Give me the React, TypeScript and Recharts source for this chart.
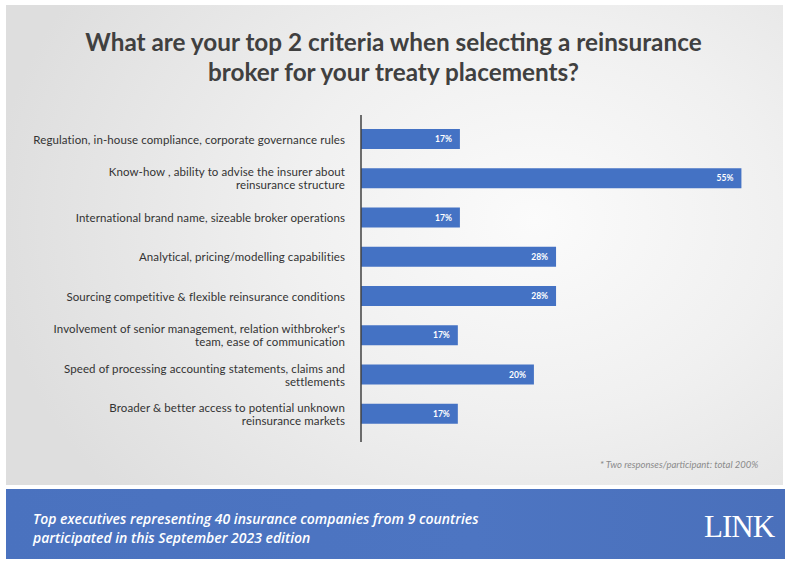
import { BarChart, Bar, XAxis, YAxis, LabelList } from "recharts";

const categories = [
  "Regulation, in-house compliance, corporate governance rules",
  "Know-how , ability to advise the insurer about\nreinsurance structure",
  "International brand name, sizeable broker operations",
  "Analytical, pricing/modelling capabilities",
  "Sourcing competitive & flexible reinsurance conditions",
  "Involvement of senior management, relation withbroker's\nteam, ease of communication",
  "Speed of processing accounting statements, claims and\nsettlements",
  "Broader & better access to potential unknown\nreinsurance markets",
];

// bar lengths as drawn in the picture (the printed labels don't scale linearly)
const values = [14.3, 55, 14.3, 28.2, 28.2, 14, 25, 14];
const labels = ["17%", "55%", "17%", "28%", "28%", "17%", "20%", "17%"];

const data = categories.map((name, i) => ({ name, value: values[i], label: labels[i] }));

const BLUE = "#4472c4";
const LINE_GAP = 13;

const CategoryTick = ({ x, y, payload }: { x?: number; y?: number; payload?: { value: string } }) => {
  const lines = (payload?.value ?? "").split("\n");
  const start = -((lines.length - 1) * LINE_GAP) / 2;
  return (
    <text
      x={x}
      y={y}
      textAnchor="end"
      fontSize={11.5}
      letterSpacing={0.1}
      fontFamily="Lato, sans-serif"
      fill="#333333"
      dominantBaseline="central"
    >
      {lines.map((l, i) => (
        <tspan key={i} x={x} dy={i === 0 ? start : LINE_GAP}>
          {l}
        </tspan>
      ))}
    </text>
  );
};

export default function App() {
  return (
    <div
      style={{
        position: "absolute",
        left: 0,
        top: 0,
        width: 787,
        height: 563,
        background: "#ffffff",
        overflow: "hidden",
        fontFamily: "Lato, sans-serif",
      }}
    >
      <div
        style={{
          position: "absolute",
          left: 6,
          top: 5,
          width: 777,
          height: 480,
          background:
            "radial-gradient(ellipse 70% 90% at 68% 45%, #fbfbfb 0%, #f0f0f0 45%, #dedede 100%)",
        }}
      />
      <div
        style={{
          position: "absolute",
          left: 0,
          top: 27,
          width: 787,
          textAlign: "center",
          fontSize: 24.3,
          fontWeight: 700,
          lineHeight: "30px",
          color: "#404040",
        }}
      >
        What are your top 2 criteria when selecting a reinsurance
        <br />
        broker for your treaty placements?
      </div>

      <div style={{ position: "absolute", left: 0, top: 0 }}>
        <BarChart
          width={787}
          height={563}
          data={data}
          layout="vertical"
          margin={{ top: 115, right: 11, bottom: 121, left: 0 }}
        >
          <XAxis type="number" domain={[0, 60]} hide />
          <YAxis
            type="category"
            dataKey="name"
            width={361}
            tickSize={0}
            tickMargin={16}
            padding={{ top: 4, bottom: 9 }}
            axisLine={{ stroke: "#404040", strokeWidth: 1.5 }}
            tickLine={false}
            tick={<CategoryTick />}
            interval={0}
          />
          <Bar dataKey="value" fill={BLUE} barSize={20} isAnimationActive={false}>
            <LabelList
              dataKey="label"
              position="insideRight"
              offset={8}
              fill="#ffffff"
              fontSize={8.5}
              fontWeight={700}
              fontFamily="Lato, sans-serif"
            />
          </Bar>
        </BarChart>
      </div>

      <div
        style={{
          position: "absolute",
          left: 600,
          top: 459,
          fontSize: 9.5,
          fontStyle: "italic",
          color: "#8a8a8a",
        }}
      >
        * Two responses/participant: total 200%
      </div>

      <div
        style={{
          position: "absolute",
          left: 6,
          top: 489,
          width: 779,
          height: 70,
          background: "linear-gradient(90deg, #4a72bf 0%, #4d75c2 60%, #4a70bb 100%)",
        }}
      />
      <div
        style={{
          position: "absolute",
          left: 33,
          top: 509,
          fontSize: 14,
          fontStyle: "italic",
          fontWeight: 600,
          fontFamily: "'Open Sans', sans-serif",
          lineHeight: "19px",
          color: "#ffffff",
        }}
      >
        Top executives representing 40 insurance companies from 9 countries
        <br />
        participated in this September 2023 edition
      </div>
      <div
        style={{
          position: "absolute",
          left: 704,
          top: 509,
          fontSize: 31,
          fontFamily: "'Liberation Serif', serif",
          color: "#ffffff",
          letterSpacing: -1,
          lineHeight: "36px",
        }}
      >
        LINK
      </div>
    </div>
  );
}
